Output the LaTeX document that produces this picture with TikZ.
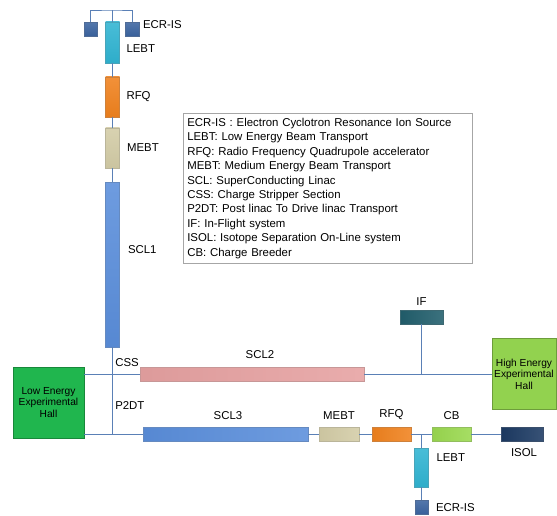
\documentclass[tikz,border=0pt]{standalone}
\usepackage{fontspec}
\setmainfont{Liberation Sans}
\usetikzlibrary{positioning}
\definecolor{ecrc}{HTML}{3B64A0}
\definecolor{lebtc}{HTML}{30B4D2}
\definecolor{rfqc}{HTML}{F0821E}
\definecolor{mebtc}{HTML}{D3CCA6}
\definecolor{sclc}{HTML}{5A8EDB}
\definecolor{scltwoc}{HTML}{E6A1A1}
\definecolor{ifc}{HTML}{215E6C}
\definecolor{cbc}{HTML}{9AD94F}
\definecolor{isolc}{HTML}{1C3A63}
\definecolor{lowc}{HTML}{20B64E}
\definecolor{highc}{HTML}{92D24F}
\definecolor{beamc}{HTML}{5A80B6}
\tikzset{
  every picture/.append style={line width=0.6pt},
  every node/.append style={font=\fontsize{11.4}{13}\selectfont},
}
\tikzset{
  part/.style={draw=#1!70!gray, fill=#1, inner sep=0pt, line width=0.5pt},
  vpart/.style={part=#1, top color=#1!88!white, bottom color=#1!96!black},
  hpart/.style={part=#1, left color=#1!96!black, right color=#1!88!white},
  beam/.style={draw=beamc, line width=0.9pt},
  lbl/.style={inner sep=0pt},
  hall/.style={draw=#1!75!black, fill=#1, align=center, inner sep=0pt, font=\fontsize{10.2}{11.5}\selectfont}
}
\begin{document}
\begin{tikzpicture}[x=1pt, y=-1pt]
\useasboundingbox (0,0) rectangle (557,516);

% ion source and driver linac (vertical)
\node[vpart=ecrc, minimum width=13pt, minimum height=14pt] (ecrL) at (90.5,29.5) {};
\node[vpart=lebtc, minimum width=14pt, minimum height=41pt] (lebt1) at (112.5,42.5) {};
\node[vpart=ecrc, minimum width=14pt, minimum height=14pt] (ecrR) at (132.5,29.5) {};
\coordinate (top) at (112.5,10);
\node[vpart=rfqc, minimum width=14pt, minimum height=40pt] (rfq1) at (112.5,97) {};
\node[vpart=mebtc, minimum width=14pt, minimum height=40pt] (mebt1) at (112.5,148) {};
\node[vpart=sclc, minimum width=14pt, minimum height=165pt] (scl1) at (112.5,264.5) {};
\coordinate (css) at (112.5,374);
\coordinate (p2dt) at (112.5,434);

\node[lbl, right=3pt of ecrR, yshift=5pt] (lecr1) {ECR-IS};
\node[lbl, right=6.5pt of lebt1, yshift=-6.5pt] (llebt1) {LEBT};
\node[lbl, right=6.5pt of rfq1] (lrfq1) {RFQ};
\node[lbl, right=7pt of mebt1] (lmebt1) {MEBT};
\node[lbl, right=8pt of scl1, yshift=14.5pt] (lscl1) {SCL1};
\node[lbl, right=2.5pt of css, yshift=11pt] (lcss) {CSS};
\node[lbl, right=2.5pt of p2dt, yshift=28pt] (lp2dt) {P2DT};

% experimental halls and post linac
\node[hall=lowc, minimum width=71pt, minimum height=71pt] (low) at (48.5,402.5) {Low Energy\\Experimental\\Hall};
\node[hpart=scltwoc, minimum width=224pt, minimum height=14pt] (scl2) at (252,374) {};
\node[hpart=ifc, minimum width=43pt, minimum height=14pt] (if) at (421.5,317) {};
\node[hall=highc, minimum width=64pt, minimum height=71pt] (high) at (524,374) {High Energy\\Experimental\\Hall};
\node[lbl, above=8pt of scl2, xshift=8pt] (lscl2) {SCL2};
\node[lbl, above=4pt of if] (lif) {IF};

% ISOL line
\node[hpart=sclc, minimum width=165pt, minimum height=14pt] (scl3) at (225.5,434) {};
\node[hpart=mebtc, minimum width=40pt, minimum height=14pt] (mebt2) at (339,434) {};
\node[hpart=rfqc, minimum width=39pt, minimum height=14pt] (rfq2) at (391.5,434) {};
\node[hpart=cbc, minimum width=39pt, minimum height=14pt] (cb) at (451.5,434) {};
\node[hpart=isolc, minimum width=42pt, minimum height=14pt] (isol) at (522,434) {};
\coordinate (junc) at (421.5,434);
\node[vpart=lebtc, minimum width=14pt, minimum height=39pt] (lebt2) at (421.5,467.5) {};
\node[vpart=ecrc, minimum width=13pt, minimum height=14pt] (ecr2) at (421.5,507.5) {};

\node[lbl, above=7pt of scl3, xshift=2.5pt] (lscl3) {SCL3};
\node[lbl, above=7pt of mebt2] (lmebt2) {MEBT};
\node[lbl, above=7pt of rfq2] (lrfq2) {RFQ};
\node[lbl, above=7pt of cb] (lcb) {CB};
\node[lbl, below=7pt of isol, xshift=2pt] (lisol) {ISOL};
\node[lbl, right=7.5pt of lebt2, yshift=9.5pt] (llebt2) {LEBT};
\node[lbl, right=7.5pt of ecr2] (lecr2) {ECR-IS};

% legend
\node[draw=black!35, inner sep=4pt, text width=281pt, minimum height=150pt, align=left,
  font=\fontsize{11.4}{14.4}\selectfont, anchor=north west] (legend) at (183,113) {%
ECR-IS : Electron Cyclotron Resonance Ion Source\\
LEBT: Low Energy Beam Transport\\
RFQ: Radio Frequency Quadrupole accelerator\\
MEBT: Medium Energy Beam Transport\\
SCL: SuperConducting Linac\\
CSS: Charge Stripper Section\\
P2DT: Post linac To Drive linac Transport\\
IF: In-Flight system\\
ISOL: Isotope Separation On-Line system\\
CB: Charge Breeder};

% beam lines
\draw[beam] (ecrL.north) |- (top) -| (ecrR.north);
\draw[beam] (lebt1.north) -- (top);
\draw[beam] (lebt1.south) -- (rfq1.north);
\draw[beam] (rfq1.south) -- (mebt1.north);
\draw[beam] (mebt1.south) -- (scl1.north);
\draw[beam] (scl1.south) -- (css) -- (p2dt);
\draw[beam] (low.east |- css) -- (scl2.west);
\draw[beam] (low.east |- p2dt) -- (scl3.west);
\draw[beam] (scl2.east) -- (high.west);
\draw[beam] (if.south) -- (if.south |- scl2.east);
\draw[beam] (scl3.east) -- (mebt2.west);
\draw[beam] (mebt2.east) -- (rfq2.west);
\draw[beam] (rfq2.east) -- (cb.west);
\draw[beam] (cb.east) -- (isol.west);
\draw[beam] (junc) -- (lebt2.north);
\draw[beam] (lebt2.south) -- (ecr2.north);

\end{tikzpicture}
\end{document}
